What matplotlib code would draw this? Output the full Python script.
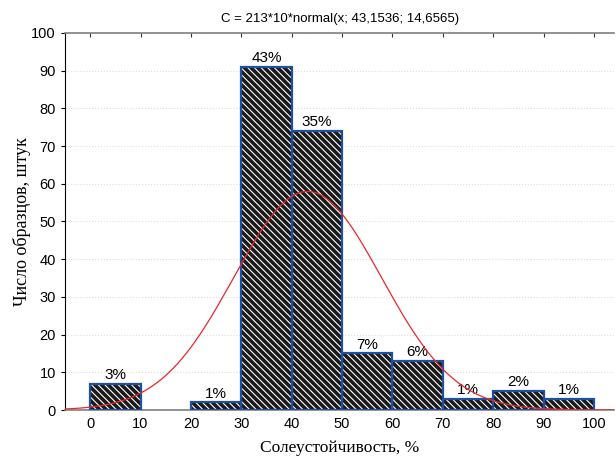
import matplotlib.pyplot as plt
import numpy as np

plt.rcParams['font.family'] = ['Liberation Sans', 'DejaVu Sans']
plt.rcParams['hatch.linewidth'] = 0.8

# bins (left edges), counts
bin_left = [0, 20, 30, 40, 50, 60, 70, 80, 90]
counts = [7, 2, 91, 74, 15, 13, 3, 5, 3]
pct_labels = ['3%', '1%', '43%', '35%', '7%', '6%', '1%', '2%', '1%']

# fitted normal from the title
n_total = 213
bin_w = 10
mu = 43.1536
sigma = 14.6565

fig = plt.figure(figsize=(6.16, 4.58), dpi=100)
ax = fig.add_axes([0.1055, 0.1048, 0.8915, 0.8232])

# hatched bars: dark fill with white hatch, then blue outline
ax.bar(bin_left, counts, width=bin_w, align='edge', color='#1a1a1a',
       edgecolor='white', hatch='\\\\\\\\\\', linewidth=0, zorder=2)
ax.bar(bin_left, counts, width=bin_w, align='edge', fill=False,
       edgecolor='#1f4f9f', linewidth=1.6, zorder=3)

for x, c, t in zip(bin_left, counts, pct_labels):
    ax.text(x + bin_w / 2, c + 0.5, t, ha='center', va='bottom', fontsize=11)

xs = np.linspace(-5, 104, 400)
ys = n_total * bin_w * np.exp(-0.5 * ((xs - mu) / sigma) ** 2) / (sigma * np.sqrt(2 * np.pi))
ax.plot(xs, ys, color='#e8282a', linewidth=0.9, zorder=4)

ax.set_xlim(-5, 104)
ax.set_ylim(0, 100)
ax.set_xticks(range(0, 101, 10))
ax.set_yticks(range(0, 101, 10))
ax.tick_params(axis='x', bottom=False, top=True, direction='in', length=3,
               labelsize=10.5, pad=5, color='#333333')
ax.tick_params(axis='y', left=True, direction='out', length=3, labelsize=10.5)

ax.spines['right'].set_visible(False)
ax.spines['top'].set_color('#808080')
ax.spines['top'].set_linewidth(1.2)
ax.spines['bottom'].set_color('#808080')
ax.spines['bottom'].set_linewidth(1.2)
ax.spines['left'].set_color('black')

ax.yaxis.grid(True, linestyle=':', color='#dddddd', linewidth=0.8)
ax.set_axisbelow(True)

ax.set_title('C = 213*10*normal(x; 43,1536; 14,6565)', fontsize=9.5, pad=8)
ax.set_xlabel('Солеустойчивость, %', family=['Liberation Serif'], fontsize=12.5, labelpad=6.5)
ax.set_ylabel('Число образцов, штук', family=['Liberation Serif'], fontsize=13, labelpad=0)

fig.savefig('out.png', dpi=100)
